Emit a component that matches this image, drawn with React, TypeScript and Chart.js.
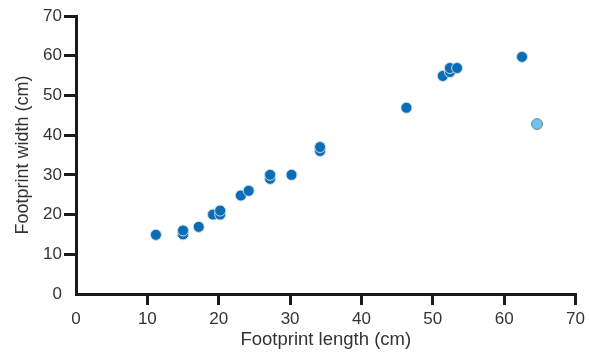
import React, { useEffect, useRef } from "react";
import { Chart, registerables } from "chart.js";

Chart.register(...registerables);

const lengthsMain = [11.2, 15, 15, 17.2, 19.2, 20.2, 20.2, 23.1, 24.2, 27.2, 27.2, 30.2, 34.2, 34.2, 46.3, 51.4, 52.4, 52.4, 53.4, 62.5];
const widthsMain = [14.9, 15, 16, 16.9, 20, 20, 21, 24.8, 26, 29, 30, 30, 36, 37, 46.9, 54.9, 55.9, 56.9, 56.9, 59.7];
const lengthsOutlier = [64.6];
const widthsOutlier = [42.8];
const xTicks = [0, 10, 20, 30, 40, 50, 60, 70];
const yTicks = [0, 10, 20, 30, 40, 50, 60, 70];

const FONT = "'Liberation Sans', Arial, Helvetica, sans-serif";

export default function App() {
  const ref = useRef<HTMLCanvasElement | null>(null);
  useEffect(() => {
    if (!ref.current) return;
    const toPts = (xs: number[], ys: number[]) => xs.map((x, i) => ({ x, y: ys[i] }));
    const chart = new Chart(ref.current, {
      type: "scatter",
      data: {
        datasets: [
          {
            data: toPts(lengthsMain, widthsMain),
            backgroundColor: "#0b6db6",
            borderColor: "#c9dcec",
            borderWidth: 1,
            pointRadius: 5.5,
          },
          {
            data: toPts(lengthsOutlier, widthsOutlier),
            backgroundColor: "#6ec3e8",
            borderColor: "#7f8a90",
            borderWidth: 1,
            pointRadius: 5.5,
          },
        ],
      },
      options: {
        animation: false,
        responsive: false,
        maintainAspectRatio: false,
        layout: { padding: { top: 16, right: 13, left: 0, bottom: 0 } },
        plugins: { legend: { display: false }, tooltip: { enabled: false } },
        scales: {
          x: {
            type: "linear",
            min: 0,
            max: 70,
            afterBuildTicks: (s: any) => {
              s.ticks = xTicks.map((v) => ({ value: v }));
            },
            afterFit: (s: any) => {
              s.height = 62;
            },
            border: { display: true, color: "#1a1a1a", width: 3 },
            grid: {
              drawOnChartArea: false,
              drawTicks: true,
              tickLength: 11,
              lineWidth: 3,
              color: (ctx: any) => (ctx.tick && ctx.tick.value === 0 ? "rgba(0,0,0,0)" : "#1a1a1a"),
            },
            ticks: { color: "#333", font: { family: FONT, size: 17 }, padding: 4 },
            title: {
              display: true,
              text: "Footprint length (cm)",
              color: "#333",
              font: { family: FONT, size: 18.5 },
              padding: { top: 0, bottom: 5 },
            },
          },
          y: {
            type: "linear",
            min: 0,
            max: 70,
            afterBuildTicks: (s: any) => {
              s.ticks = yTicks.map((v) => ({ value: v }));
            },
            afterFit: (s: any) => {
              s.width = 76;
            },
            border: { display: true, color: "#1a1a1a", width: 3 },
            grid: {
              drawOnChartArea: false,
              drawTicks: true,
              tickLength: 12,
              lineWidth: 3,
              color: (ctx: any) => (ctx.tick && ctx.tick.value === 0 ? "rgba(0,0,0,0)" : "#1a1a1a"),
            },
            ticks: { color: "#333", font: { family: FONT, size: 17 }, padding: 2 },
            title: {
              display: true,
              text: "Footprint width (cm)",
              color: "#333",
              font: { family: FONT, size: 18 },
              padding: { top: 12, bottom: 0 },
            },
          },
        },
      },
    });
    return () => chart.destroy();
  }, []);
  return (
    <div style={{ position: "fixed", left: 0, top: 0, width: 589, height: 356, background: "#fff" }}>
      <canvas ref={ref} width={589} height={356} style={{ width: 589, height: 356, display: "block" }} />
    </div>
  );
}
